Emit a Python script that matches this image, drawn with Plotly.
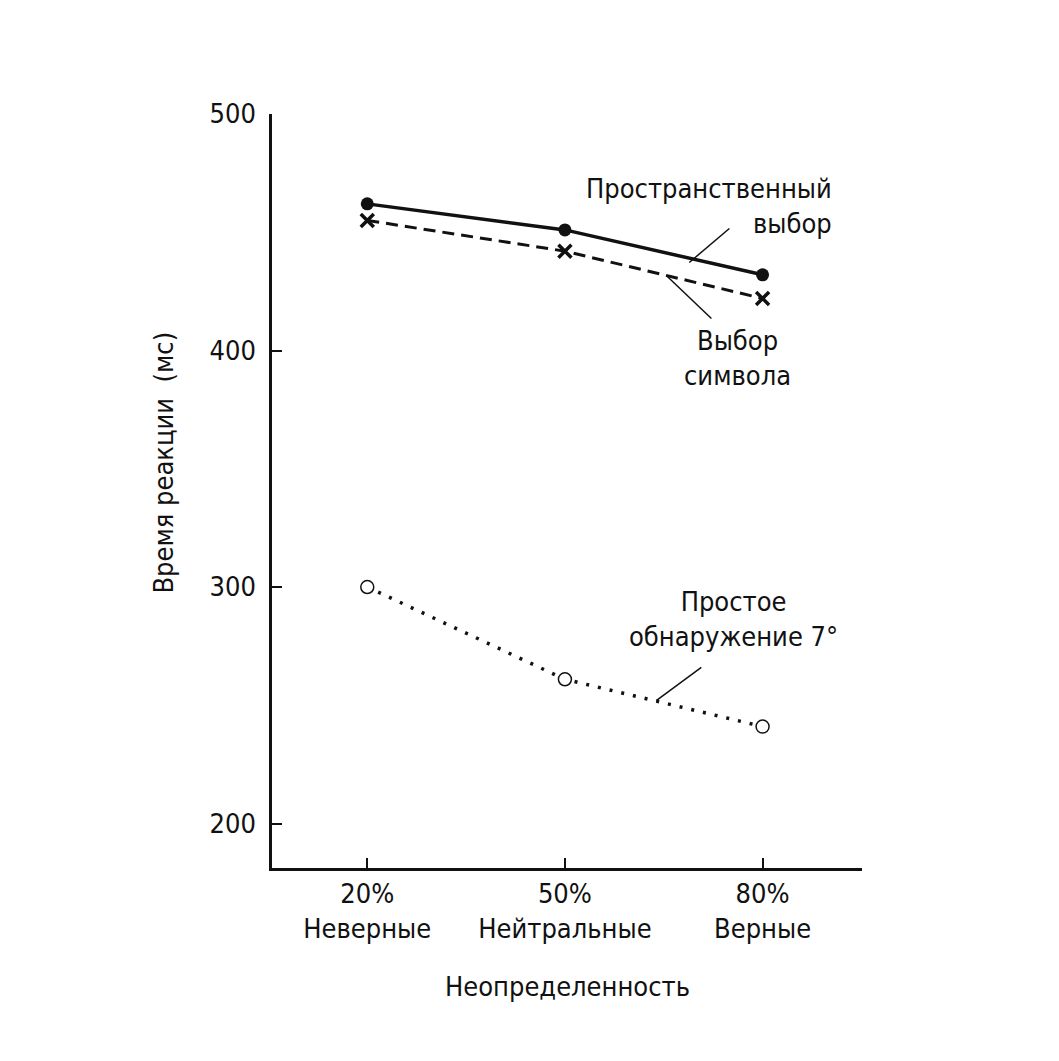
import plotly.graph_objects as go

# conditions (x axis categories)
categories = [0, 1, 2]
tick_labels = ["20%<br>Неверные", "50%<br>Нейтральные", "80%<br>Верные"]

# reaction time, ms
spatial_choice = [462, 451, 432]
symbol_choice = [455, 442, 422]
simple_detection = [300, 261, 241]

ink = "#111111"
font_family = "DejaVu Sans Condensed, Liberation Sans Narrow, Open Sans, sans-serif"

fig = go.Figure()

fig.add_trace(go.Scatter(
    x=categories, y=spatial_choice, mode="lines+markers",
    line=dict(color=ink, width=3.5),
    marker=dict(symbol="circle", size=13, color=ink),
))
fig.add_trace(go.Scatter(
    x=categories, y=symbol_choice, mode="lines+markers",
    line=dict(color=ink, width=3, dash="12px,7px"),
    marker=dict(symbol="x-thin", size=13, line=dict(color=ink, width=3.5)),
))
fig.add_trace(go.Scatter(
    x=categories, y=simple_detection, mode="lines+markers",
    line=dict(color=ink, width=3.5, dash="3px,9px"),
    marker=dict(symbol="circle", size=13, color="white", line=dict(color=ink, width=1.5)),
))

# leader lines from labels to curves
leaders = [
    ((1.629, 437.2), (1.832, 451.6)),
    ((1.513, 431.7), (1.741, 413.5)),
    ((1.462, 252.0), (1.690, 266.0)),
]
for (x0, y0), (x1, y1) in leaders:
    fig.add_shape(type="line", x0=x0, y0=y0, x1=x1, y1=y1,
                  xref="x", yref="y", line=dict(color=ink, width=1.5))

labels = [
    dict(text="Пространственный<br>выбор", x=2.36, y=461.3, xanchor="right", align="right"),
    dict(text="Выбор<br>символа", x=1.873, y=397, xanchor="center", align="center"),
    dict(text="Простое<br>обнаружение 7°", x=1.853, y=286.3, xanchor="center", align="center"),
]
for lab in labels:
    fig.add_annotation(xref="x", yref="y", yanchor="middle", showarrow=False,
                       font=dict(size=27, color=ink), **lab)

fig.add_annotation(text="Время реакции  (мс)", xref="paper", yref="paper",
                   x=-0.214, y=0.538, textangle=-90, showarrow=False,
                   font=dict(size=27, color=ink))
fig.add_annotation(text="Неопределенность", xref="paper", yref="paper",
                   x=0.5, y=-0.181, showarrow=False,
                   font=dict(size=27, color=ink))

fig.update_layout(
    width=1043, height=1045,
    margin=dict(l=264, r=189, t=106, b=185),
    plot_bgcolor="white", paper_bgcolor="white",
    showlegend=False,
    font=dict(family=font_family, size=27, color=ink),
    xaxis=dict(
        range=[-0.482, 2.503], tickvals=categories, ticktext=tick_labels,
        showgrid=False, zeroline=False, showline=True, linecolor=ink, linewidth=2.5,
        ticks="inside", ticklen=10, tickwidth=1.5, tickcolor=ink,
        ticklabelstandoff=0,
    ),
    yaxis=dict(
        range=[181.2, 500], tickvals=[200, 300, 400, 500],
        showgrid=False, zeroline=False, showline=True, linecolor=ink, linewidth=2.5,
        ticks="inside", ticklen=10, tickwidth=1.5, tickcolor=ink,
        ticklabelstandoff=8,
    ),
)

fig.write_html("out.html")
